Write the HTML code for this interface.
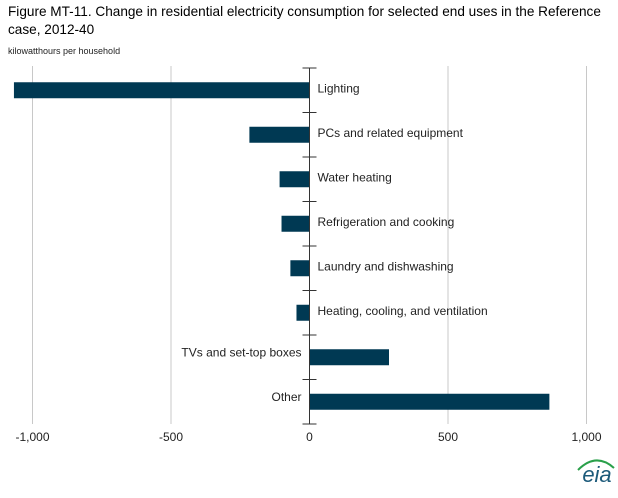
<!DOCTYPE html>
<html><head><meta charset="utf-8"><style>
body{margin:0;background:#fff;font-family:"Liberation Sans",Arial,sans-serif;}
#wrap{position:relative;width:618px;height:498px;overflow:hidden;}
.title{position:absolute;left:8px;top:3px;font-size:13.6px;line-height:18px;color:#000;width:612px;}
.unit{position:absolute;left:8px;top:46px;font-size:9px;color:#222;}
</style></head><body>
<div id="wrap">
<div class="title">Figure MT-11. Change in residential electricity consumption for selected end uses in the Reference case, 2012-40</div>
<div class="unit">kilowatthours per household</div>
<svg id="svg" width="618" height="498" style="position:absolute;left:0;top:0"></svg>
</div>
<script>
const categories=["Lighting","PCs and related equipment","Water heating","Refrigeration and cooking","Laundry and dishwashing","Heating, cooling, and ventilation","TVs and set-top boxes","Other"];
const values=[-1067,-217,-108,-101,-69,-47,287,866];
const tickValues=[-1000,-500,0,500,1000];
const tickLabels=["-1,000","-500","0","500","1,000"];
const NS="http://www.w3.org/2000/svg";
const svg=document.getElementById('svg');
const x=v=>309.5+v*0.277;
const top0=68,bandH=44.5;
const y=i=>top0+i*bandH;
function mk(t,a,p){const e=document.createElementNS(NS,t);for(const k in a)e.setAttribute(k,a[k]);(p||svg).appendChild(e);return e;}
tickValues.forEach((v,i)=>{
 if(v!==0){const g=mk('line',{x1:x(v),x2:x(v),y1:top0-2,y2:y(categories.length),stroke:'#c8c8c8','stroke-width':1});
 
 }
 const t=mk('text',{x:x(v),y:441,'font-size':12,'text-anchor':'middle',fill:'#222'});t.textContent=tickLabels[i];
 
 
});
categories.forEach((c,i)=>{
 const v=values[i];const cy=y(i)+bandH/2;
 const r=mk('rect',{x:Math.min(x(0),x(v)),y:cy-8,width:Math.abs(x(v)-x(0)),height:16,fill:'#003953'});
 
 
 const t=mk('text',{'font-size':12,fill:'#222'});
 if(v<0){t.setAttribute('x',x(0)+8);t.setAttribute('y',cy+2);}
 else{t.setAttribute('x',x(0)-8);t.setAttribute('y',cy-1);t.setAttribute('text-anchor','end');}
 t.textContent=c;
 
 
});
const ax=mk('line',{x1:x(0),x2:x(0),y1:top0,y2:y(categories.length),stroke:'#333','stroke-width':1});


for(let i=0;i<=categories.length;i++){const tk=mk('line',{x1:x(0)-7,x2:x(0)+7,y1:y(i),y2:y(i),stroke:'#333','stroke-width':1});
 
 }
const logo=mk('text',{x:597,y:482,'font-size':22,'text-anchor':'middle',fill:'#1c5a7a','font-style':'italic'});
logo.textContent='eia';


const arc=mk('path',{d:'M578 470 Q596 452 614 468',stroke:'#2aa04a','stroke-width':2,fill:'none'});


</script>
</body></html>
